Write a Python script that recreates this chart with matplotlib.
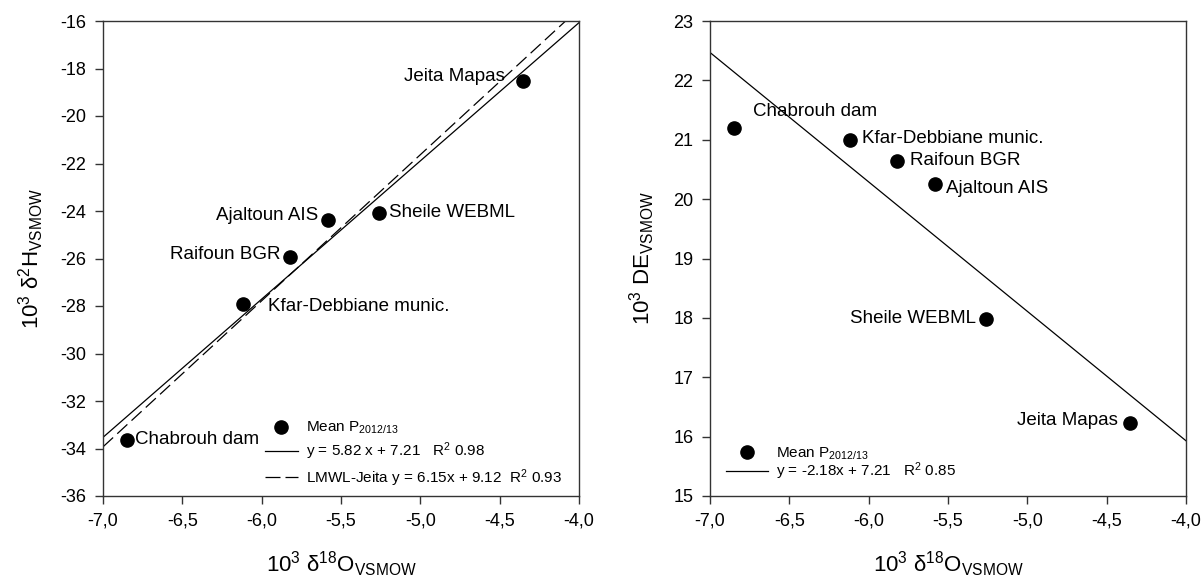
import numpy as np
import matplotlib
matplotlib.use("Agg")
import matplotlib.pyplot as plt
from matplotlib.lines import Line2D

plt.rcParams['font.family'] = ['Liberation Sans', 'DejaVu Sans']
plt.rcParams['mathtext.fontset'] = 'custom'
plt.rcParams['mathtext.rm'] = 'Liberation Sans'
plt.rcParams['mathtext.it'] = 'Liberation Sans:italic'
plt.rcParams['mathtext.bf'] = 'Liberation Sans:bold'

# mean precipitation isotopes per station, 2012/13
stations = ["Chabrouh dam", "Kfar-Debbiane munic.", "Raifoun BGR",
            "Ajaltoun AIS", "Sheile WEBML", "Jeita Mapas"]
d18O = [-6.85, -6.12, -5.82, -5.58, -5.26, -4.35]
d2H = [-33.64, -27.93, -25.92, -24.37, -24.07, -18.52]
dexcess = [21.20, 21.00, 20.64, 20.25, 17.98, 16.23]

# fitted lines: (slope, intercept)
fit_2H = (5.82, 7.21)
lmwl_jeita = (6.15, 9.12)
fit_de = (-2.18, 7.21)

xticks = [-7.0, -6.5, -6.0, -5.5, -5.0, -4.5, -4.0]
xticklabels = ["-7,0", "-6,5", "-6,0", "-5,5", "-5,0", "-4,5", "-4,0"]
yticks_2H = list(range(-36, -15, 2))
yticks_de = list(range(15, 24))

# label offsets in pixels (dx, dy, horizontal alignment)
offs_2H = [(8, 0, 'left'), (25, -2, 'left'), (-10, 2, 'right'),
           (-10, 4, 'right'), (10, 0, 'left'), (-19, 4, 'right')]
offs_de = [(19, 16, 'left'), (12, 1, 'left'), (13, 1, 'left'),
           (11, -4, 'left'), (-10, 1, 'right'), (-13, 2, 'right')]

W, H = 1203, 580
fig = plt.figure(figsize=(W / 100, H / 100), dpi=100)
ax1 = fig.add_axes([103 / W, 84 / H, 476 / W, 475 / H])
ax2 = fig.add_axes([710 / W, 84 / H, 476 / W, 475 / H])

xs = np.array([-7.0, -4.0])


def style(ax, yticks):
    ax.set_xlim(-7, -4)
    ax.set_xticks(xticks)
    ax.set_xticklabels(xticklabels)
    ax.set_ylim(yticks[0], yticks[-1])
    ax.set_yticks(yticks)
    ax.set_yticklabels([str(t) for t in yticks])
    ax.tick_params(direction='out', length=6, width=1, labelsize=13,
                   color='#333333', pad=6)
    for s in ax.spines.values():
        s.set_linewidth(1)
        s.set_color('#333333')
    ax.set_xlabel("10$^3$ δ$^{18}$O$_{\\rm VSMOW}$", fontsize=16, labelpad=14)


def labels(ax, yvals, offs):
    for name, x, y, (dx, dy, ha) in zip(stations, d18O, yvals, offs):
        ax.annotate(name, (x, y), xytext=(dx, dy), textcoords='offset pixels',
                    ha=ha, va='center', fontsize=13.5)


# left: d2H vs d18O
ax1.plot(d18O, d2H, 'o', color='black', ms=9.5, zorder=3)
ax1.plot(xs, fit_2H[0] * xs + fit_2H[1], '-', color='black', lw=0.9)
ax1.plot(xs, lmwl_jeita[0] * xs + lmwl_jeita[1], color='black', lw=0.9,
         dashes=[11, 4.5])
style(ax1, yticks_2H)
ax1.set_ylabel("10$^3$ δ$^2$H$_{\\rm VSMOW}$", fontsize=16, labelpad=10)
labels(ax1, d2H, offs_2H)

h1 = [Line2D([], [], marker='o', ls='none', color='black', ms=9.5),
      Line2D([], [], ls='-', color='black', lw=0.9),
      Line2D([], [], color='black', lw=0.9, dashes=[12, 4])]
l1 = ["Mean P$_{2012/13}$",
      "y = 5.82 x + 7.21   R$^2$ 0.98",
      "LMWL-Jeita y = 6.15x + 9.12  R$^2$ 0.93"]
ax1.legend(h1, l1, loc='lower left', bbox_to_anchor=(0.317, -0.007),
           frameon=False, fontsize=11, handlelength=2.2, handletextpad=0.5,
           labelspacing=0.3, borderaxespad=0.3)

# right: deuterium excess vs d18O
ax2.plot(d18O, dexcess, 'o', color='black', ms=9.5, zorder=3)
ax2.plot(xs, fit_de[0] * xs + fit_de[1], '-', color='black', lw=0.9)
style(ax2, yticks_de)
ax2.set_ylabel("10$^3$ DE$_{\\rm VSMOW}$", fontsize=16, labelpad=12)
labels(ax2, dexcess, offs_de)

h2 = h1[:2]
l2 = ["Mean P$_{2012/13}$", "y = -2.18x + 7.21   R$^2$ 0.85"]
ax2.legend(h2, l2, loc='lower left', bbox_to_anchor=(0.0105, 0.007),
           frameon=False, fontsize=11, handlelength=2.8, handletextpad=0.5,
           labelspacing=-0.1, borderaxespad=0.3)

fig.savefig("out.png", dpi=100)
